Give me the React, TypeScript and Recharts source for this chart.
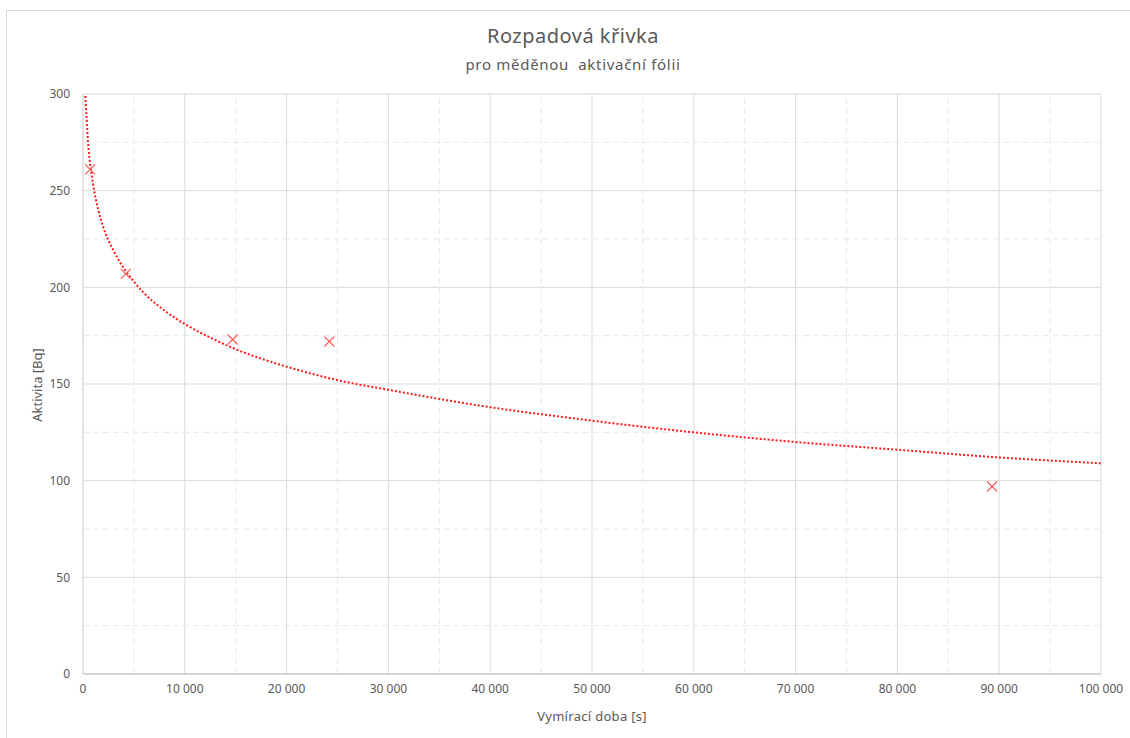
import React from 'react';
import {
  ComposedChart, Scatter, Line, XAxis, YAxis, CartesianGrid, ReferenceLine
} from 'recharts';

// measured points (time [s], activity [Bq])
const measTime = [700, 4200, 14700, 24200, 89300];
const measActivity = [261, 207, 173, 172, 97];

// trendline
const trendTime = [230, 500, 1000, 1500, 2000, 3000, 4000, 5000, 6000, 8000, 10000, 12500, 15000, 20000, 25000, 30000, 40000, 50000, 60000, 70000, 80000, 90000, 100000];
const trendActivity = [299, 275, 253, 240, 231, 219, 210, 203, 197, 188, 181, 174, 168, 159, 152, 147, 138, 131, 125, 120, 116, 112, 109];

const xTicks = [0, 10000, 20000, 30000, 40000, 50000, 60000, 70000, 80000, 90000, 100000];
const yTicks = [0, 50, 100, 150, 200, 250, 300];
const xMinor = [5000, 15000, 25000, 35000, 45000, 55000, 65000, 75000, 85000, 95000];
const yMinor = [25, 75, 125, 175, 225, 275];

const measured = measTime.map((t, i) => ({ t, a: measActivity[i] }));
const trend = trendTime.map((t, i) => ({ t, a: trendActivity[i] }));

const FONT = '"Noto Sans", "Open Sans", sans-serif';
const TXT = '#595959';

const fmt = (v: number) => String(v).replace(/\B(?=(\d{3})+(?!\d))/g, ' ');

const Cross = (p: any) => {
  const { cx, cy } = p;
  if (cx == null || cy == null) return null;
  const s = 5;
  return (
    <g stroke="#ff5a5a" strokeWidth={1.2}>
      <line x1={cx - s} y1={cy - s} x2={cx + s} y2={cy + s} />
      <line x1={cx - s} y1={cy + s} x2={cx + s} y2={cy - s} />
    </g>
  );
};

export default function App() {
  return (
    <div style={{ position: 'absolute', left: 0, top: 0, width: 1130, height: 738, overflow: 'hidden', background: '#fff', fontFamily: FONT }}>
      <div style={{ position: 'absolute', left: 6, top: 10, width: 1200, height: 800, border: '1px solid #d9d9d9' }} />
      <div style={{ position: 'absolute', left: 0, width: 1146, top: 22, textAlign: 'center', fontSize: 20, letterSpacing: 0.5, color: TXT }}>
        Rozpadová křivka
      </div>
      <div style={{ position: 'absolute', left: 0, width: 1146, top: 54, textAlign: 'center', fontSize: 15, letterSpacing: 0.7, color: TXT, whiteSpace: 'pre' }}>
        {'pro měděnou  aktivační fólii'}
      </div>
      <div style={{ position: 'absolute', left: 37, top: 385, transform: 'translate(-50%, -50%) rotate(-90deg)', fontSize: 13, color: TXT, whiteSpace: 'nowrap' }}>
        Aktivita [Bq]
      </div>
      <div style={{ position: 'absolute', left: 592, top: 716, transform: 'translate(-50%, -50%)', fontSize: 13, letterSpacing: 0.3, color: TXT, whiteSpace: 'nowrap' }}>
        Vymírací doba [s]
      </div>
      <div style={{ position: 'absolute', left: 0, top: 0 }}>
        <ComposedChart width={1130} height={738} margin={{ top: 94, right: 29, bottom: 0, left: 0 }}>
          <CartesianGrid stroke="#d9d9d9" />
          {xMinor.map((v) => (
            <ReferenceLine key={'x' + v} x={v} stroke="#e8e8e8" strokeDasharray="6 4" />
          ))}
          {yMinor.map((v) => (
            <ReferenceLine key={'y' + v} y={v} stroke="#e8e8e8" strokeDasharray="6 4" />
          ))}
          <XAxis
            dataKey="t"
            type="number"
            domain={[0, 100000]}
            ticks={xTicks}
            tickFormatter={fmt}
            height={64}
            tickLine={false}
            tickSize={6}
            tickMargin={4}
            stroke="#bfbfbf"
            tick={{ fill: TXT, fontSize: 12, fontFamily: FONT }}
            allowDataOverflow
          />
          <YAxis
            dataKey="a"
            type="number"
            domain={[0, 300]}
            ticks={yTicks}
            width={83}
            tickLine={false}
            tickSize={6}
            tickMargin={7}
            stroke="#d9d9d9"
            tick={{ fill: TXT, fontSize: 12, fontFamily: FONT }}
            allowDataOverflow
          />
          <Line
            data={trend}
            dataKey="a"
            type="monotone"
            stroke="#ff1a1a"
            strokeWidth={2}
            strokeDasharray="2 2"
            dot={false}
            activeDot={false}
            isAnimationActive={false}
          />
          <Scatter data={measured} dataKey="a" shape={<Cross />} isAnimationActive={false} />
        </ComposedChart>
      </div>
    </div>
  );
}
